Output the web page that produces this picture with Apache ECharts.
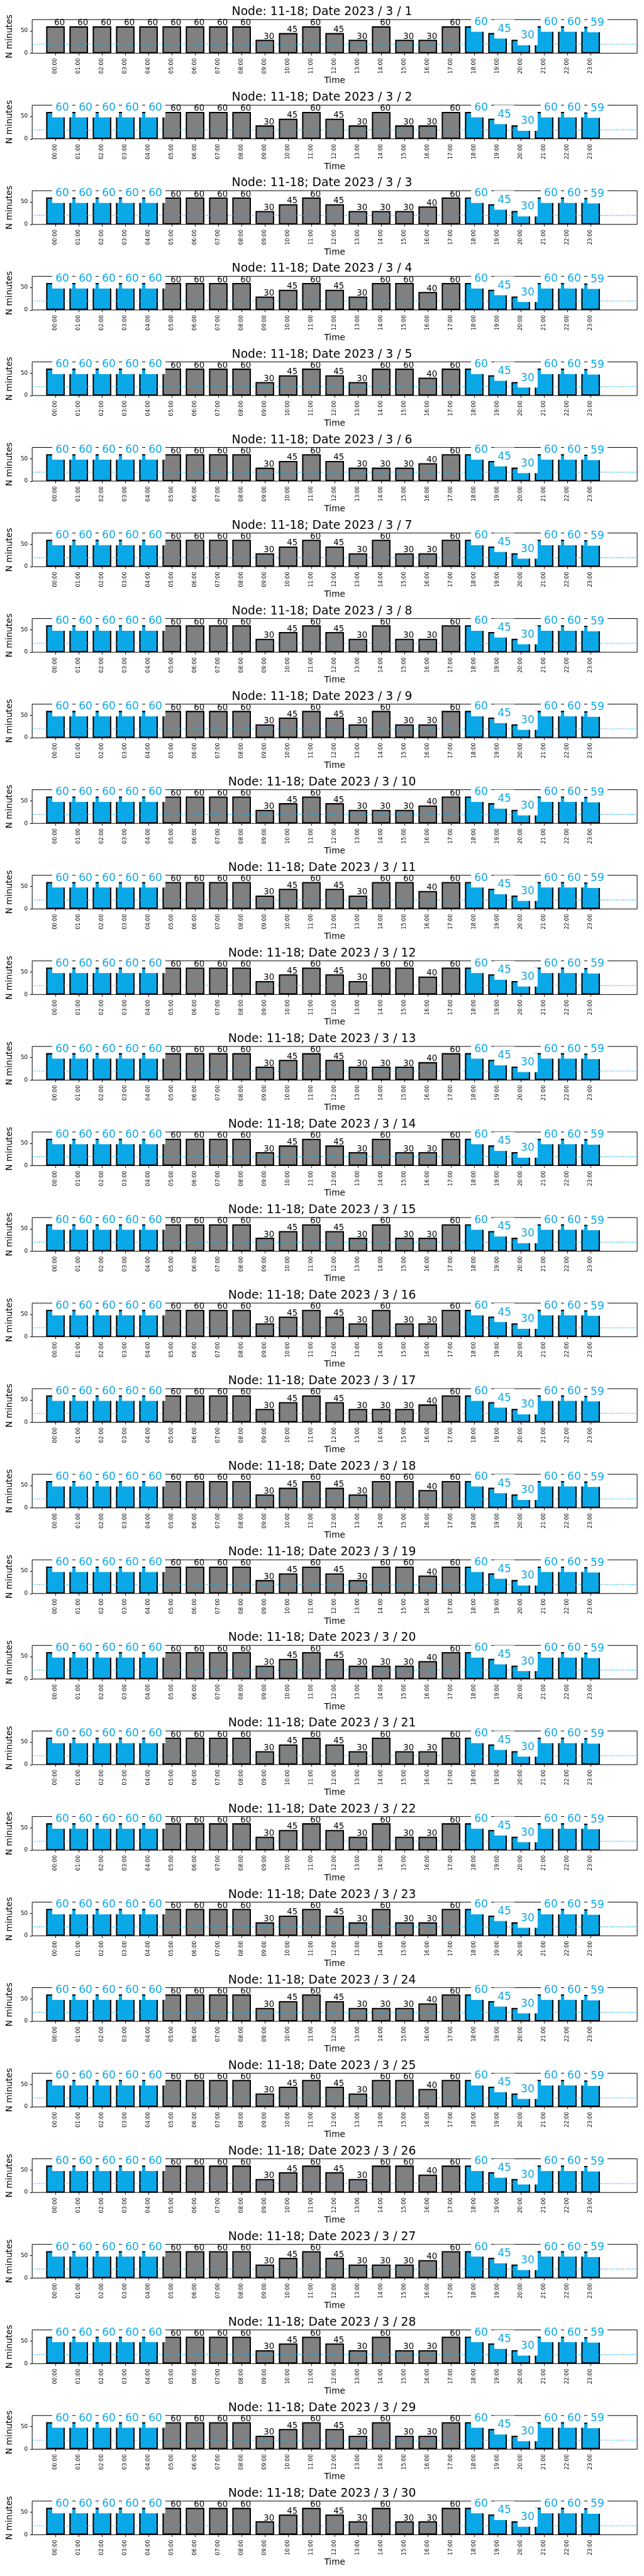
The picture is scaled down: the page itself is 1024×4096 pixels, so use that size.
<!DOCTYPE html>
<html>
<head>
<meta charset="utf-8">
<script src="https://cdn.jsdelivr.net/npm/echarts@6/dist/echarts.min.js"></script>
<style>
html,body{margin:0;padding:0;background:#fff;}
#chart{width:1024px;height:4096px;}
</style>
</head>
<body>
<div id="chart"></div>
<script>
// ---------------- data ----------------
const nodeName = '11-18';
const year = 2023;
const month = 3;
const days = [1,2,3,4,5,6,7,8,9,10,11,12,13,14,15,16,17,18,19,20,21,22,23,24,25,26,27,28,29,30];
const hours = ['00:00','01:00','02:00','03:00','04:00','05:00','06:00','07:00','08:00','09:00','10:00','11:00',
               '12:00','13:00','14:00','15:00','16:00','17:00','18:00','19:00','20:00','21:00','22:00','23:00'];
// minutes per hour, one row per day
const minutesByDay = [
  [60,60,60,60,60,60,60,60,60,30,45,60,45,30,60,30,30,60,60,45,30,60,60,59], // 1
  [60,60,60,60,60,60,60,60,60,30,45,60,45,30,60,30,30,60,60,45,30,60,60,59], // 2
  [60,60,60,60,60,60,60,60,60,30,45,60,45,30,30,30,40,60,60,45,30,60,60,59], // 3
  [60,60,60,60,60,60,60,60,60,30,45,60,45,30,60,60,40,60,60,45,30,60,60,59], // 4
  [60,60,60,60,60,60,60,60,60,30,45,60,45,30,60,60,40,60,60,45,30,60,60,59], // 5
  [60,60,60,60,60,60,60,60,60,30,45,60,45,30,30,30,40,60,60,45,30,60,60,59], // 6
  [60,60,60,60,60,60,60,60,60,30,45,60,45,30,60,30,30,60,60,45,30,60,60,59], // 7
  [60,60,60,60,60,60,60,60,60,30,45,60,45,30,60,30,30,60,60,45,30,60,60,59], // 8
  [60,60,60,60,60,60,60,60,60,30,45,60,45,30,60,30,30,60,60,45,30,60,60,59], // 9
  [60,60,60,60,60,60,60,60,60,30,45,60,45,30,30,30,40,60,60,45,30,60,60,59], // 10
  [60,60,60,60,60,60,60,60,60,30,45,60,45,30,60,60,40,60,60,45,30,60,60,59], // 11
  [60,60,60,60,60,60,60,60,60,30,45,60,45,30,60,60,40,60,60,45,30,60,60,59], // 12
  [60,60,60,60,60,60,60,60,60,30,45,60,45,30,30,30,40,60,60,45,30,60,60,59], // 13
  [60,60,60,60,60,60,60,60,60,30,45,60,45,30,60,30,30,60,60,45,30,60,60,59], // 14
  [60,60,60,60,60,60,60,60,60,30,45,60,45,30,60,30,30,60,60,45,30,60,60,59], // 15
  [60,60,60,60,60,60,60,60,60,30,45,60,45,30,60,30,30,60,60,45,30,60,60,59], // 16
  [60,60,60,60,60,60,60,60,60,30,45,60,45,30,30,30,40,60,60,45,30,60,60,59], // 17
  [60,60,60,60,60,60,60,60,60,30,45,60,45,30,60,60,40,60,60,45,30,60,60,59], // 18
  [60,60,60,60,60,60,60,60,60,30,45,60,45,30,60,60,40,60,60,45,30,60,60,59], // 19
  [60,60,60,60,60,60,60,60,60,30,45,60,45,30,30,30,40,60,60,45,30,60,60,59], // 20
  [60,60,60,60,60,60,60,60,60,30,45,60,45,30,60,30,30,60,60,45,30,60,60,59], // 21
  [60,60,60,60,60,60,60,60,60,30,45,60,45,30,60,30,30,60,60,45,30,60,60,59], // 22
  [60,60,60,60,60,60,60,60,60,30,45,60,45,30,60,30,30,60,60,45,30,60,60,59], // 23
  [60,60,60,60,60,60,60,60,60,30,45,60,45,30,30,30,40,60,60,45,30,60,60,59], // 24
  [60,60,60,60,60,60,60,60,60,30,45,60,45,30,60,60,40,60,60,45,30,60,60,59], // 25
  [60,60,60,60,60,60,60,60,60,30,45,60,45,30,60,60,40,60,60,45,30,60,60,59], // 26
  [60,60,60,60,60,60,60,60,60,30,45,60,45,30,30,30,40,60,60,45,30,60,60,59], // 27
  [60,60,60,60,60,60,60,60,60,30,45,60,45,30,60,30,30,60,60,45,30,60,60,59], // 28
  [60,60,60,60,60,60,60,60,60,30,45,60,45,30,60,30,30,60,60,45,30,60,60,59], // 29
  [60,60,60,60,60,60,60,60,60,30,45,60,45,30,60,30,30,60,60,45,30,60,60,59]  // 30
];
// hours drawn in blue (index into hours), one row per day
const highlightHours = [
  [18,19,20,21,22,23],                  // 1
  [0,1,2,3,4,18,19,20,21,22,23],        // 2
  [0,1,2,3,4,18,19,20,21,22,23],        // 3
  [0,1,2,3,4,18,19,20,21,22,23],        // 4
  [0,1,2,3,4,18,19,20,21,22,23],        // 5
  [0,1,2,3,4,18,19,20,21,22,23],        // 6
  [0,1,2,3,4,18,19,20,21,22,23],        // 7
  [0,1,2,3,4,18,19,20,21,22,23],        // 8
  [0,1,2,3,4,18,19,20,21,22,23],        // 9
  [0,1,2,3,4,18,19,20,21,22,23],        // 10
  [0,1,2,3,4,18,19,20,21,22,23],        // 11
  [0,1,2,3,4,18,19,20,21,22,23],        // 12
  [0,1,2,3,4,18,19,20,21,22,23],        // 13
  [0,1,2,3,4,18,19,20,21,22,23],        // 14
  [0,1,2,3,4,18,19,20,21,22,23],        // 15
  [0,1,2,3,4,18,19,20,21,22,23],        // 16
  [0,1,2,3,4,18,19,20,21,22,23],        // 17
  [0,1,2,3,4,18,19,20,21,22,23],        // 18
  [0,1,2,3,4,18,19,20,21,22,23],        // 19
  [0,1,2,3,4,18,19,20,21,22,23],        // 20
  [0,1,2,3,4,18,19,20,21,22,23],        // 21
  [0,1,2,3,4,18,19,20,21,22,23],        // 22
  [0,1,2,3,4,18,19,20,21,22,23],        // 23
  [0,1,2,3,4,18,19,20,21,22,23],        // 24
  [0,1,2,3,4,18,19,20,21,22,23],        // 25
  [0,1,2,3,4,18,19,20,21,22,23],        // 26
  [0,1,2,3,4,18,19,20,21,22,23],        // 27
  [0,1,2,3,4,18,19,20,21,22,23],        // 28
  [0,1,2,3,4,18,19,20,21,22,23],        // 29
  [0,1,2,3,4,18,19,20,21,22,23]         // 30
];
const thresholdMinutes = 20;
const yMax = 75;
const yTickValues = [0, 50];

// ---------------- layout / style ----------------
const S = 0.682;
const FONT = 'DejaVu Sans';
const BLUE = '#0ba8e8';
const GREY = '#808080';
const period = 199.5 * S;
const gridTop0 = 45.7 * S;
const gridH = 78.5 * S;
const gridLeft = 68.4 * S;
const gridW = 1485.5 * S - gridLeft;
const plotCenter = gridLeft + gridW / 2;

const titleFs = 27.5 * S;
const nameFs = 20 * S;
const blackFs = 19.44 * S;
const blueFs = 25 * S;
const bluePad = 7.5 * S;

// category slots: one empty slot before 00:00 and two after 23:00 (axis spans -1 .. 25)
const cats = [''].concat(hours, ['', '']);
const inRange = (i) => i >= 1 && i <= 24;

const option = { animation: false, title: [], grid: [], xAxis: [], yAxis: [], series: [] };

days.forEach((d, k) => {
  const top = gridTop0 + k * period;
  const vals = minutesByDay[k] || [];
  const hl = highlightHours[k] || [];

  option.title.push({
    text: 'Node: ' + nodeName + '; Date ' + year + ' / ' + month + ' / ' + d,
    left: 'center',
    top: top - 21.1,
    padding: [0, 0, 0, 2 * (plotCenter - 512)],
    textStyle: { fontFamily: FONT, fontSize: titleFs, fontWeight: 'normal', color: '#000', lineHeight: titleFs }
  });

  option.grid.push({
    left: gridLeft, top: top, width: gridW, height: gridH,
    show: true, borderColor: '#000', borderWidth: 1, backgroundColor: 'transparent'
  });

  option.xAxis.push({
    gridIndex: k, type: 'category', data: cats, boundaryGap: false,
    axisLine: { show: false },
    axisTick: { show: true, length: 5 * S, interval: (i) => inRange(i), lineStyle: { color: '#000', width: 1 } },
    axisLabel: { interval: (i) => inRange(i), rotate: 90, margin: 8, fontFamily: FONT, fontSize: 12.5 * S, color: '#000' },
    splitLine: { show: false },
    name: 'Time', nameLocation: 'middle', nameGap: 37.4,
    nameTextStyle: { fontFamily: FONT, fontSize: nameFs, color: '#000', lineHeight: nameFs }
  });

  option.yAxis.push({
    gridIndex: k, type: 'value', min: 0, max: yMax,
    axisLine: { show: false },
    axisTick: { show: true, length: 5 * S, customValues: yTickValues, lineStyle: { color: '#000', width: 1 } },
    axisLabel: { customValues: yTickValues, margin: 7, fontFamily: FONT, fontSize: 13 * S, color: '#000' },
    splitLine: { show: false },
    name: 'N minutes', nameLocation: 'middle', nameGap: 21.6,
    nameTextStyle: { fontFamily: FONT, fontSize: nameFs, color: '#000', lineHeight: nameFs }
  });

  const barData = ['-'];
  const labelData = ['-'];
  vals.forEach((v, h) => {
    const isBlue = hl.indexOf(h) >= 0;
    barData.push({ value: v, itemStyle: { color: isBlue ? BLUE : GREY } });
    labelData.push({
      value: v,
      label: isBlue ? {
        show: true, position: ['50%', 0], align: 'left', verticalAlign: 'bottom',
        color: BLUE, fontFamily: FONT, fontSize: blueFs, lineHeight: blueFs * 1.164,
        backgroundColor: '#fff', padding: bluePad, offset: [-bluePad, 8.7]
      } : {
        show: true, position: ['50%', 0], align: 'left', verticalAlign: 'bottom',
        color: '#000', fontFamily: FONT, fontSize: blackFs, lineHeight: blackFs,
        offset: [-1.9, 1.7]
      }
    });
  });
  barData.push('-', '-');
  labelData.push('-', '-');

  // bars
  option.series.push({
    type: 'bar', xAxisIndex: k, yAxisIndex: k, z: 2,
    barWidth: '80%', barGap: '-100%',
    itemStyle: { borderColor: '#000', borderWidth: 3 * S },
    data: barData, silent: true
  });
  // dotted threshold reference line across the whole axis span
  option.series.push({
    type: 'line', xAxisIndex: k, yAxisIndex: k, z: 3,
    data: cats.map(() => thresholdMinutes),
    symbol: 'none', showSymbol: false, silent: true,
    lineStyle: { color: BLUE, width: 2 * S, type: [2 * S, 3.3 * S] },
    emphasis: { disabled: true }
  });
  // value labels (drawn above bars and the reference line)
  option.series.push({
    type: 'bar', xAxisIndex: k, yAxisIndex: k, z: 5,
    barWidth: '80%', barGap: '-100%',
    itemStyle: { color: 'transparent', borderWidth: 0 },
    data: labelData, silent: true
  });
});

const chart = echarts.init(document.getElementById('chart'), null, { renderer: 'canvas' });
chart.setOption(option);
</script>
</body>
</html>
